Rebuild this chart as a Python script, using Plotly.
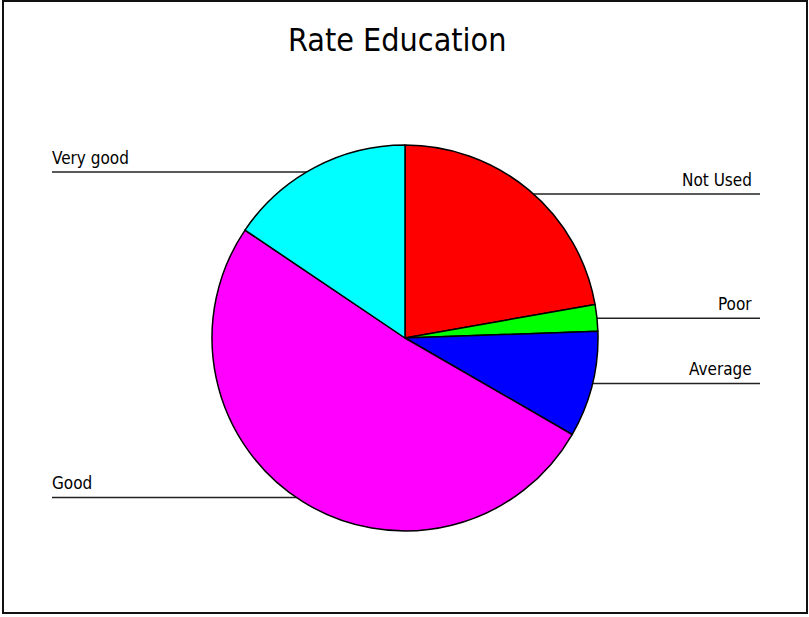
import math
import plotly.graph_objects as go

labels = ["Not Used", "Poor", "Average", "Good", "Very good"]
values = [10, 1, 4, 23, 7]
colors = ["#FF0000", "#00FF00", "#0000FF", "#FF00FF", "#00FFFF"]
title_text = "Rate Education"

W, H = 809, 617
cx, cy, r = 405, 338, 193
ry = 188
right_end, left_end = 760, 52

fig = go.Figure(go.Pie(
    labels=labels, values=values, sort=False, direction="clockwise", rotation=0,
    marker=dict(colors=colors, line=dict(color="black", width=1.5)),
    textinfo="none", hoverinfo="label+value+percent", showlegend=False,
    domain=dict(x=[(cx - r) / W, (cx + r) / W], y=[(H - cy - r) / H, (H - cy + r) / H]),
))

label_font = dict(family="DejaVu Sans Condensed", size=17, color="black")
shapes = []
annotations = []
total = sum(values)
cum = 0
for lab, v in zip(labels, values):
    mid = (cum + v / 2) / total * 2 * math.pi
    cum += v
    dy = -ry * math.cos(mid)
    ey = cy + dy
    dx = math.sqrt(max(r * r - dy * dy, 0)) - 1
    yp = 1 - ey / H
    if math.sin(mid) >= 0:
        ex = cx + dx
        shapes.append(dict(type="line", xref="paper", yref="paper", x0=ex / W, x1=right_end / W,
                           y0=yp, y1=yp, layer="below", line=dict(color="#222", width=1.5)))
        annotations.append(dict(text=lab, xref="paper", yref="paper", x=(right_end - 6) / W, y=yp + 2 / H,
                                xanchor="right", yanchor="bottom", showarrow=False, font=label_font))
    else:
        ex = cx - dx
        shapes.append(dict(type="line", xref="paper", yref="paper", x0=left_end / W, x1=ex / W,
                           y0=yp, y1=yp, layer="below", line=dict(color="#222", width=1.5)))
        annotations.append(dict(text=lab, xref="paper", yref="paper", x=(left_end - 2) / W, y=yp + 2 / H,
                                xanchor="left", yanchor="bottom", showarrow=False, font=label_font))

annotations.append(dict(text=title_text, xref="paper", yref="paper", x=397 / W, y=1 - 40 / H,
                        xanchor="center", yanchor="middle", showarrow=False,
                        font=dict(family="DejaVu Sans Condensed", size=32, color="black")))

shapes.append(dict(type="rect", xref="paper", yref="paper", x0=3 / W, x1=807 / W,
                   y0=1 - 613 / H, y1=1 - 1 / H, line=dict(color="#111", width=2)))

fig.update_layout(
    width=W, height=H, margin=dict(l=0, r=0, t=0, b=0),
    paper_bgcolor="white", plot_bgcolor="white",
    shapes=shapes, annotations=annotations,
)
fig.write_html("out.html")
